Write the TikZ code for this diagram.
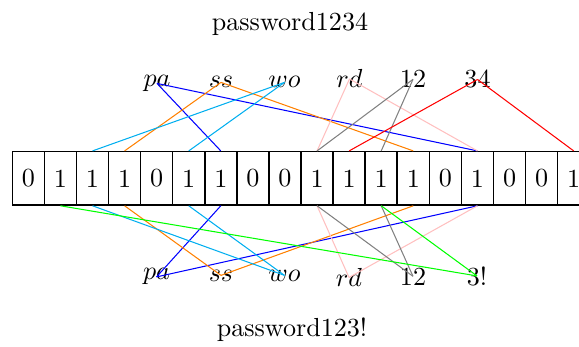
\documentclass[tikz,border=0pt]{standalone}
\definecolor{skyc}{RGB}{0,174,239}
\begin{document}
\begin{tikzpicture}[x=0.3831pt,y=-0.3831pt,
  cell/.style={draw, line width=0.6pt, rectangle, minimum width=12.29pt, minimum height=20.42pt, inner sep=0pt},
  lbl/.style={anchor=base, inner sep=0pt},
  conn/.style={line width=0.4pt}]
\useasboundingbox (0,0) rectangle (579,347);
\clip (0,0) rectangle (579,347);
\node (t1) at (290,24) {password1234};
\node (t2) at (292,330) {password123!};
\foreach \b [count=\i from 0] in {0,1,1,1,0,1,1,0,0,1,1,1,1,0,1,0,0,1}
  \node[cell] (c\i) at ({12.3+32.08*(\i+0.5)},178.35) {\b};
% top labels
\node[lbl] (pa1) at (157,86.5) {$pa$};
\node[lbl] (ss1) at (221,88) {$ss$};
\node[lbl] (wo1) at (284.5,88) {$wo$};
\node[lbl] (rd1) at (349.5,88) {$rd$};
\node[lbl] (n12a) at (413,88) {12};
\node[lbl] (n34) at (477.5,88) {34};
% bottom labels
\node[lbl] (pa2) at (156.5,280) {$pa$};
\node[lbl] (ss2) at (221,281) {$ss$};
\node[lbl] (wo2) at (284.5,281) {$wo$};
\node[lbl] (rd2) at (349,286.5) {$rd$};
\node[lbl] (n12b) at (413,285) {12};
\node[lbl] (n3x) at (477,285) {3!};
% top connectors
\draw[conn,blue] (pa1.center) -- (c6.north);
\draw[conn,blue] (pa1.center) -- (c14.north);
\draw[conn,orange] (ss1.center) -- (c3.north);
\draw[conn,orange] (ss1.center) -- (c12.north);
\draw[conn,skyc] (wo1.center) -- (c2.north);
\draw[conn,skyc] (wo1.center) -- (c5.north);
\draw[conn,pink] (rd1.center) -- (c9.north);
\draw[conn,pink] (rd1.center) -- (c14.north);
\draw[conn,gray] (n12a.center) -- (c9.north);
\draw[conn,gray] (n12a.center) -- (c11.north);
\draw[conn,red] (n34.center) -- (c10.north);
\draw[conn,red] (n34.center) -- (c17.north);
% bottom connectors
\draw[conn,blue] (c6.south) -- (pa2.center);
\draw[conn,blue] (c14.south) -- (pa2.center);
\draw[conn,orange] (c3.south) -- (ss2.center);
\draw[conn,orange] (c12.south) -- (ss2.center);
\draw[conn,skyc] (c2.south) -- (wo2.center);
\draw[conn,skyc] (c5.south) -- (wo2.center);
\draw[conn,pink] (c9.south) -- (rd2.center);
\draw[conn,pink] (c14.south) -- (rd2.center);
\draw[conn,gray] (c9.south) -- (n12b.center);
\draw[conn,gray] (c11.south) -- (n12b.center);
\draw[conn,green] (c1.south) -- (n3x.center);
\draw[conn,green] (c11.south) -- (n3x.center);
\end{tikzpicture}
\end{document}
